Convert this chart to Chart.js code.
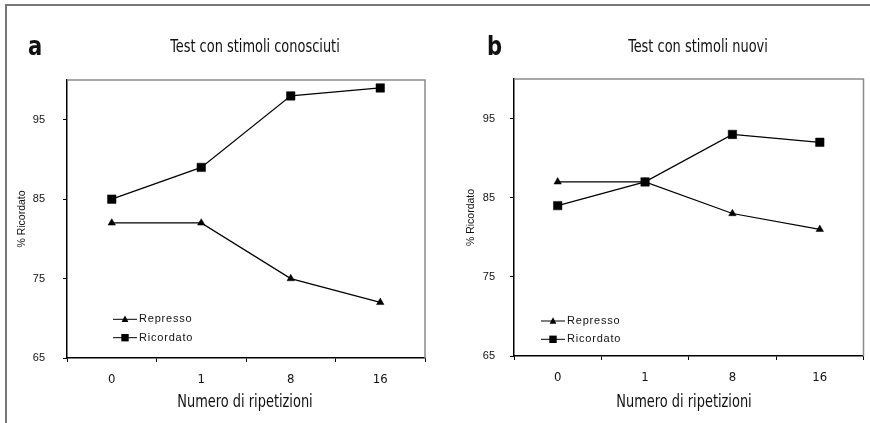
<!DOCTYPE html>
<html>
<head>
<meta charset="utf-8">
<title>Test con stimoli conosciuti / nuovi</title>
<script src="https://cdn.jsdelivr.net/npm/chart.js@4.4.0/dist/chart.umd.min.js"></script>
<style>
    body { margin: 0; background: #fff; }
    #page { position: relative; width: 870px; height: 423px; overflow: hidden; }
    .frame {
        position: absolute; left: 5px; top: 4px; width: 900px; height: 440px;
        border-top: 2px solid #777; border-left: 2px solid #777;
    }
    canvas { position: absolute; top: 0; }
    .letter {
        position: absolute; line-height: 26px; white-space: nowrap; color: #111;
        transform: scaleX(0.9); transform-origin: left top;
        font: bold 26px "Liberation Sans Narrow", "DejaVu Sans Condensed", sans-serif;
    }
    .title {
        position: absolute; line-height: 18px; white-space: nowrap; color: #111;
        transform: translateX(-50%) scaleX(0.8);
        font: 18px "Liberation Sans Narrow", "DejaVu Sans Condensed", sans-serif;
    }
</style>
</head>
<body>
<div id="page">
    <div class="frame"></div>
    <canvas id="chartA" width="435" height="423" style="left:0"></canvas>
    <canvas id="chartB" width="435" height="423" style="left:435px"></canvas>
    <div class="letter" style="left:28px; top:30.5px">a</div>
    <div class="letter" style="left:487px; top:31px">b</div>
    <div class="title" style="left:255px; top:35px">Test con stimoli conosciuti</div>
    <div class="title" style="left:698px; top:35px">Test con stimoli nuovi</div>
    <div class="title" style="left:245px; top:390px">Numero di ripetizioni</div>
    <div class="title" style="left:684px; top:390px">Numero di ripetizioni</div>
</div>

<script>
    // data
    var repetitions = ['0', '1', '8', '16'];
    var familiarRepressed = [82, 82, 75, 72];
    var familiarRemembered = [85, 89, 98, 99];
    var novelRepressed = [87, 87, 83, 81];
    var novelRemembered = [84, 87, 93, 92];
    var yTicks = [65, 75, 85, 95];

    var narrow = "'Liberation Sans Narrow', 'DejaVu Sans Condensed', sans-serif";
    var arial = "'Liberation Sans', Arial, sans-serif";

    // grey frame on top and right of the plot area
    var plotFrame = {
        id: 'plotFrame',
        beforeDatasetsDraw: function(chart) {
            var ctx = chart.ctx, a = chart.chartArea;
            ctx.save();
            ctx.strokeStyle = '#8c8c8c';
            ctx.lineWidth = 1.5;
            ctx.beginPath();
            ctx.moveTo(a.left, a.top);
            ctx.lineTo(a.right, a.top);
            ctx.lineTo(a.right, a.bottom);
            ctx.stroke();
            ctx.restore();
        }
    };

    function marker(ctx, style, x, y, r) {
        ctx.beginPath();
        if (style === 'rect') {
            ctx.rect(x - r, y - r, 2 * r, 2 * r);
        } else {
            ctx.moveTo(x, y - r);
            ctx.lineTo(x + r * 0.9, y + r * 0.7);
            ctx.lineTo(x - r * 0.9, y + r * 0.7);
            ctx.closePath();
        }
        ctx.fill();
    }

    // legend sitting inside the plot, lower left
    var insideLegend = {
        id: 'insideLegend',
        afterDatasetsDraw: function(chart, args, opts) {
            var ctx = chart.ctx, a = chart.chartArea;
            ctx.save();
            chart.data.datasets.forEach(function(ds, i) {
                var x0 = a.left + opts.x;
                var y = a.bottom + opts.y + i * opts.spacing;
                ctx.strokeStyle = '#000';
                ctx.fillStyle = '#000';
                ctx.lineWidth = 1;
                ctx.beginPath();
                ctx.moveTo(x0, y);
                ctx.lineTo(x0 + 24, y);
                ctx.stroke();
                marker(ctx, ds.pointStyle, x0 + 12, y, ds.pointStyle === 'rect' ? 3.7 : 3.8);
                ctx.fillStyle = '#111';
                ctx.font = '11px ' + arial;
                ctx.letterSpacing = '0.8px';
                ctx.textBaseline = 'middle';
                ctx.fillText(ds.label, x0 + 26, y);
            });
            ctx.restore();
        }
    };

    function makeChart(id, repressed, remembered, g) {
        var ctx = document.getElementById(id).getContext('2d');
        return new Chart(ctx, {
            type: 'line',
            data: {
                labels: repetitions,
                datasets: [{
                    label: 'Represso',
                    data: repressed,
                    borderColor: '#000',
                    backgroundColor: '#000',
                    borderWidth: 1.2,
                    pointStyle: 'triangle',
                    pointRadius: 4.3,
                    pointBorderWidth: 0.5
                }, {
                    label: 'Ricordato',
                    data: remembered,
                    borderColor: '#000',
                    backgroundColor: '#000',
                    borderWidth: 1.2,
                    pointStyle: 'rect',
                    pointRadius: 6,
                    pointBorderWidth: 0.5
                }]
            },
            options: {
                responsive: false,
                animation: false,
                layout: { padding: { top: g.top, right: g.right, bottom: 0, left: 0 } },
                plugins: {
                    legend: { display: false },
                    tooltip: { enabled: false },
                    insideLegend: g.legend
                },
                scales: {
                    x: {
                        offset: true,
                        grid: { offset: true, drawOnChartArea: false, drawTicks: true, tickLength: 4, color: '#000' },
                        border: { color: '#000', width: 1.5 },
                        ticks: { padding: 10, color: '#111', font: { family: narrow, size: 13 } },
                        afterFit: function(scale) { scale.height = g.xHeight; }
                    },
                    y: {
                        min: 65,
                        max: 100,
                        grid: { drawOnChartArea: false, drawTicks: true, tickLength: 4, color: '#000' },
                        border: { color: '#000', width: 1.5 },
                        ticks: { padding: g.yPad, color: '#111', font: { family: arial, size: 11 } },
                        afterBuildTicks: function(scale) {
                            scale.ticks = yTicks.map(function(v) { return { value: v }; });
                        },
                        title: {
                            display: true, text: '% Ricordato', color: '#111',
                            font: { family: arial, size: 10.5 }, padding: { top: g.yTitlePad, bottom: 0 }
                        },
                        afterFit: function(scale) { scale.width = g.yWidth; }
                    }
                }
            },
            plugins: [plotFrame, insideLegend]
        });
    }

    makeChart('chartA', familiarRepressed, familiarRemembered, {
        top: 80, right: 10, xHeight: 65, yWidth: 67, yPad: 18, yTitlePad: 16,
        legend: { x: 46, y: -38.7, spacing: 18.4 }
    });
    makeChart('chartB', novelRepressed, novelRemembered, {
        top: 79, right: 5, xHeight: 67, yWidth: 79, yPad: 15, yTitlePad: 30,
        legend: { x: 27, y: -35, spacing: 18.3 }
    });
</script>
</body>
</html>
